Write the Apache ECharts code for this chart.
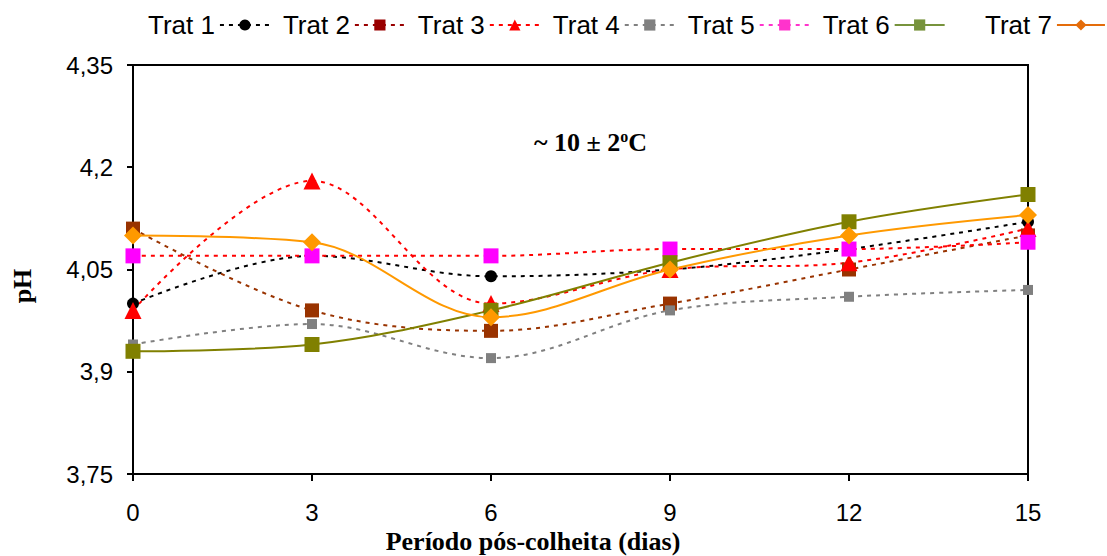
<!DOCTYPE html>
<html>
<head>
<meta charset="utf-8">
<script src="https://cdn.jsdelivr.net/npm/echarts@6/dist/echarts.min.js"></script>
<style>
  html, body { margin: 0; padding: 0; background: #fff; }
  #chart { width: 1107px; height: 556px; }
</style>
</head>
<body>
<div id="chart"></div>
<script>
// dias pós-colheita
const days = [0, 3, 6, 9, 12, 15];
const yTicks = [3.75, 3.9, 4.05, 4.2, 4.35];

const trat1 = [4.00, 4.07, 4.04, 4.05, 4.08, 4.12];
const trat2 = [4.11, 3.99, 3.96, 4.00, 4.05, 4.10];
const trat3 = [3.99, 4.18, 4.00, 4.05, 4.06, 4.11];
const trat4 = [3.94, 3.97, 3.92, 3.99, 4.01, 4.02];
const trat5 = [4.07, 4.07, 4.07, 4.08, 4.08, 4.09];
const trat6 = [3.93, 3.94, 3.99, 4.06, 4.12, 4.16];
const trat7 = [4.10, 4.09, 3.98, 4.05, 4.10, 4.13];

const chart = echarts.init(document.getElementById("chart"), null, { renderer: "svg" });

function pairs(vals) {
  return days.map((d, i) => [d, vals[i]]);
}

function serie(name, vals, opts) {
  return {
    name: name,
    type: "line",
    data: pairs(vals),
    smooth: 0.35,
    symbol: opts.symbol,
    symbolSize: opts.size,
    itemStyle: { color: opts.mark },
    lineStyle: { color: opts.line, width: 2, type: opts.dash ? [4, 5] : "solid" },
    z: 3,
  };
}

const legendText = {
  fontSize: 26,
  fontFamily: "Liberation Sans, Arial",
  color: "#000",
};

const option = {
  animation: false,
  backgroundColor: "#fff",
  grid: {
    left: 133,
    right: 79,
    top: 65,
    bottom: 82,
    show: true,
    borderColor: "#000",
    borderWidth: 2,
  },
  legend: [
    {
      left: 143,
      top: 7,
      align: "right",
      itemGap: 12,
      itemWidth: 50,
      itemHeight: 14,
      textStyle: legendText,
      data: [
        { name: "Trat 1" },
        { name: "Trat 2", itemStyle: { color: "#990000" }, lineStyle: { color: "#990000" } },
        { name: "Trat 3" },
        { name: "Trat 4" },
        { name: "Trat 5", itemStyle: { color: "#ff33cc" }, lineStyle: { color: "#ff33cc" } },
        { name: "Trat 6", itemStyle: { color: "#77933c" }, lineStyle: { color: "#77933c" } },
      ],
    },
    {
      left: 980,
      top: 7,
      align: "right",
      itemWidth: 48,
      itemHeight: 14,
      textStyle: legendText,
      data: [
        { name: "Trat 7", itemStyle: { color: "#e46c0a" }, lineStyle: { color: "#e46c0a" } },
      ],
    },
  ],
  xAxis: {
    type: "value",
    min: 0,
    max: 15,
    interval: 3,
    splitLine: { show: false },
    axisLine: { lineStyle: { color: "#000", width: 2 } },
    axisTick: { show: true, length: 7, lineStyle: { color: "#000", width: 2 } },
    axisLabel: {
      margin: 26,
      fontSize: 24,
      fontFamily: "Liberation Sans, Arial",
      color: "#000",
    },
  },
  yAxis: {
    type: "value",
    min: yTicks[0],
    max: yTicks[yTicks.length - 1],
    interval: 0.15,
    splitLine: { show: false },
    axisLine: { show: true, lineStyle: { color: "#000", width: 2 } },
    axisTick: { show: true, length: 6, lineStyle: { color: "#000", width: 2 } },
    axisLabel: {
      margin: 20,
      fontSize: 24,
      fontFamily: "Liberation Sans, Arial",
      color: "#000",
      formatter: (v) => String(parseFloat(v.toFixed(2))).replace(".", ","),
    },
  },
  graphic: [
    {
      type: "text",
      left: 534,
      top: 128,
      style: {
        text: "{a|~ 10 ± 2}{s|o}{a|C}",
        rich: {
          a: { font: "bold 26px 'Liberation Serif', 'Times New Roman'", fill: "#000" },
          s: { font: "bold 16px 'Liberation Serif', 'Times New Roman'", fill: "#000", verticalAlign: "top", padding: [0, 0, 12, 0] },
        },
      },
    },
    {
      type: "text",
      x: 533,
      y: 541,
      style: {
        text: "Período pós-colheita (dias)",
        font: "bold 26px 'Liberation Serif', 'Times New Roman'",
        fill: "#000",
        align: "center",
        verticalAlign: "middle",
      },
    },
    {
      type: "text",
      x: 22,
      y: 286,
      rotation: Math.PI / 2,
      style: {
        text: "pH",
        font: "bold 26px 'Liberation Serif', 'Times New Roman'",
        fill: "#000",
        align: "center",
        verticalAlign: "middle",
      },
    },
  ],
  series: [
    serie("Trat 1", trat1, { symbol: "circle", size: 12, mark: "#000", line: "#000", dash: true }),
    serie("Trat 2", trat2, { symbol: "rect", size: 14, mark: "#993300", line: "#993300", dash: true }),
    serie("Trat 3", trat3, { symbol: "triangle", size: 17, mark: "#ff0000", line: "#ff0000", dash: true }),
    serie("Trat 4", trat4, { symbol: "rect", size: 10, mark: "#808080", line: "#808080", dash: true }),
    serie("Trat 5", trat5, { symbol: "rect", size: 15, mark: "#ff00ff", line: "#ff0000", dash: true }),
    serie("Trat 6", trat6, { symbol: "rect", size: 15, mark: "#808000", line: "#808000", dash: false }),
    serie("Trat 7", trat7, { symbol: "diamond", size: 18, mark: "#ff9900", line: "#ff9900", dash: false }),
  ],
};

chart.setOption(option);
</script>
</body>
</html>
